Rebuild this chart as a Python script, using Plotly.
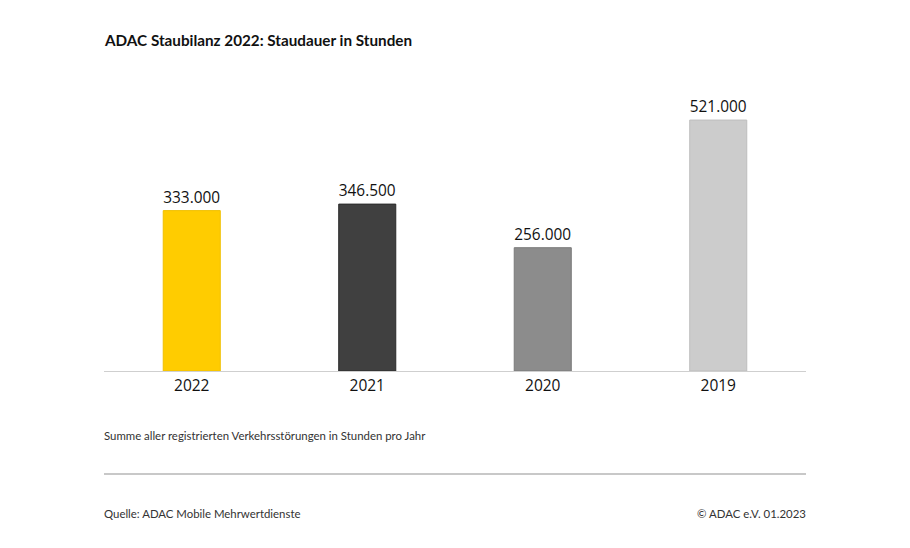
import plotly.graph_objects as go

years = ["2022", "2021", "2020", "2019"]
hours = [333000, 346500, 256000, 521000]
labels = ["333.000", "346.500", "256.000", "521.000"]
colors = ["#FFCC00", "#404040", "#8C8C8C", "#CCCCCC"]
edges = ["#F0C000", "#2A2A2A", "#7A7A7A", "#BEBEBE"]

FONT = "Open Sans"
SMALL = "Lato"

fig = go.Figure()
fig.add_trace(go.Bar(
    x=years, y=hours, text=labels, textposition="outside",
    textfont=dict(family=FONT, size=15.5, color="#111111"),
    marker=dict(color=colors, line=dict(color=edges, width=1)),
    cliponaxis=False, hoverinfo="skip",
))

fig.update_layout(
    width=910, height=548,
    margin=dict(l=104, r=104, t=82, b=177),
    paper_bgcolor="white", plot_bgcolor="white",
    bargap=0.675, showlegend=False,
    font=dict(family=FONT, color="#111111"),
    xaxis=dict(showgrid=False, showline=True, linecolor="#CFCFCF", linewidth=1,
               ticks="", tickfont=dict(family=FONT, size=15.5, color="#111111"),
               fixedrange=True),
    yaxis=dict(range=[0, 600000], visible=False, showgrid=False, zeroline=False),
    uniformtext=dict(mode="show", minsize=15),
)

fig.add_annotation(text="<b>ADAC Staubilanz 2022: Staudauer in Stunden</b>",
                   xref="paper", yref="paper", x=0, y=1, xanchor="left", yanchor="middle",
                   yshift=(82 - 40), xshift=-2, showarrow=False,
                   font=dict(family=SMALL, size=15.25, color="#111111"))
fig.add_annotation(text="Summe aller registrierten Verkehrsstörungen in Stunden pro Jahr",
                   xref="paper", yref="paper", x=0, y=0, xanchor="left", yanchor="middle",
                   yshift=-(435 - 371), xshift=-2, showarrow=False,
                   font=dict(family=SMALL, size=11.4, color="#333333"))
fig.add_annotation(text="Quelle: ADAC Mobile Mehrwertdienste",
                   xref="paper", yref="paper", x=0, y=0, xanchor="left", yanchor="middle",
                   yshift=-(513 - 371), xshift=-2, showarrow=False,
                   font=dict(family=SMALL, size=11.4, color="#333333"))
fig.add_annotation(text="© ADAC e.V. 01.2023",
                   xref="paper", yref="paper", x=1, y=0, xanchor="right", yanchor="middle",
                   yshift=-(513 - 371), xshift=2, showarrow=False,
                   font=dict(family=SMALL, size=11.4, color="#333333"))
fig.add_shape(type="line", xref="paper", yref="paper", x0=0, x1=1,
              y0=-(474 - 371) / (548 - 82 - 177), y1=-(474 - 371) / (548 - 82 - 177),
              line=dict(color="#C8C8C8", width=2))

fig.write_html("out.html", config={"displayModeBar": False})
